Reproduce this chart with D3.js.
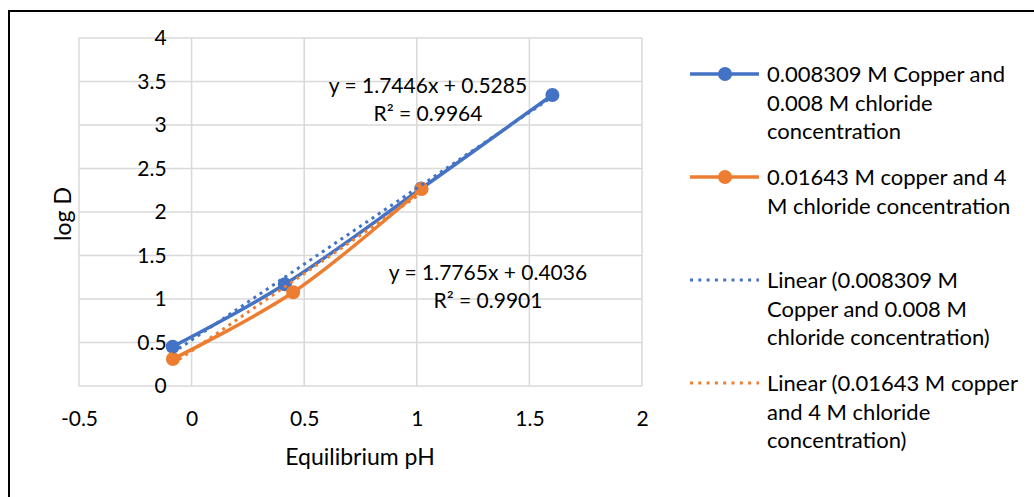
<!DOCTYPE html>
<html>
<head>
<meta charset="utf-8">
<script src="https://cdn.jsdelivr.net/npm/d3@7"></script>
<style>
  body { margin: 0; background: #fff; }
  svg text { font-family: Lato, "Open Sans", sans-serif; fill: #000; }
</style>
</head>
<body>
<svg id="chart" width="1034" height="497"></svg>
<script>
// data
const seriesNames = [
  ["0.008309 M Copper and", "0.008 M chloride", "concentration"],
  ["0.01643 M copper and 4", "M chloride concentration"]
];
const trendNames = [
  ["Linear (0.008309 M", "Copper and 0.008 M", "chloride concentration)"],
  ["Linear (0.01643 M copper", "and 4 M chloride", "concentration)"]
];
const copperPH = [-0.084, 0.414, 1.02, 1.602];
const copperLogD = [0.452, 1.169, 2.27, 3.345];
const chloridePH = [-0.083, 0.451, 1.021];
const chlorideLogD = [0.31, 1.077, 2.264];
const xTicks = [-0.5, 0, 0.5, 1, 1.5, 2];
const yTicks = [0, 0.5, 1, 1.5, 2, 2.5, 3, 3.5, 4];
const trendEq = [
  { slope: 1.7446, intercept: 0.5285, r2: 0.9964 },
  { slope: 1.7765, intercept: 0.4036, r2: 0.9901 }
];

const colors = ["#4472C4", "#ED7D31"];

const svg = d3.select("#chart");
const plot = { left: 79, right: 642, top: 38, bottom: 386 };

// chart frame
svg.append("rect")
  .attr("x", 9).attr("y", 11)
  .attr("width", 1100).attr("height", 600)
  .attr("fill", "none").attr("stroke", "#000").attr("stroke-width", 2);

const x = d3.scaleLinear().domain([-0.5, 2]).range([plot.left, plot.right]);
const y = d3.scaleLinear().domain([0, 4]).range([plot.bottom, plot.top]);

// gridlines
svg.append("g").selectAll("line").data(xTicks).enter().append("line")
  .attr("x1", d => x(d)).attr("x2", d => x(d))
  .attr("y1", plot.top).attr("y2", plot.bottom)
  .attr("stroke", "#d9d9d9").attr("stroke-width", 1.5);
svg.append("g").selectAll("line").data(yTicks).enter().append("line")
  .attr("x1", plot.left).attr("x2", plot.right)
  .attr("y1", d => y(d)).attr("y2", d => y(d))
  .attr("stroke", "#d9d9d9").attr("stroke-width", 1.5);

// axes sit at x=0 / y=0, like Excel
const yAxis = svg.append("g")
  .attr("transform", `translate(${x(0) - 22},0)`)
  .call(d3.axisLeft(y).tickValues(yTicks).tickSize(0).tickFormat(d => String(d)));
const xAxis = svg.append("g")
  .attr("transform", `translate(0,${y(0) + 26})`)
  .call(d3.axisBottom(x).tickValues(xTicks).tickSize(0).tickFormat(d => String(d)));
[yAxis, xAxis].forEach(g => {
  g.select(".domain").remove();
  g.selectAll("text").attr("font-size", "21px").attr("font-family", "Lato, sans-serif").attr("fill", "#000");
});
yAxis.selectAll("text").attr("dx", "0");
xAxis.selectAll("text").attr("dy", "0.5em");

// axis titles
svg.append("text")
  .attr("transform", "rotate(-90)")
  .attr("x", -214).attr("y", 71)
  .attr("text-anchor", "middle").attr("font-size", "23px")
  .text("log D");
svg.append("text")
  .attr("x", 360).attr("y", 465)
  .attr("text-anchor", "middle").attr("font-size", "23px")
  .text("Equilibrium pH");

const series = [
  { xs: copperPH, ys: copperLogD },
  { xs: chloridePH, ys: chlorideLogD }
];

const line = d3.line()
  .x(d => x(d[0])).y(d => y(d[1]))
  .curve(d3.curveCatmullRom.alpha(0.5));

series.forEach((s, i) => {
  const pts = s.xs.map((v, k) => [v, s.ys[k]]);
  svg.append("path")
    .datum(pts)
    .attr("d", line)
    .attr("fill", "none")
    .attr("stroke", colors[i])
    .attr("stroke-width", 3.5)
    .attr("stroke-linejoin", "round");
  svg.append("g").selectAll("circle").data(pts).enter().append("circle")
    .attr("cx", d => x(d[0])).attr("cy", d => y(d[1]))
    .attr("r", 7).attr("fill", colors[i]);
});

// linear trendlines across each series' x range
series.forEach((s, i) => {
  const t = trendEq[i];
  const ends = d3.extent(s.xs).map(v => [v, t.slope * v + t.intercept]);
  svg.append("path")
    .datum(ends)
    .attr("d", d3.line().x(d => x(d[0])).y(d => y(d[1])))
    .attr("fill", "none")
    .attr("stroke", colors[i])
    .attr("stroke-width", 3)
    .attr("stroke-dasharray", "3 4.5");
});

// trendline equations
const eqPos = [[428, 93], [488, 280]];
trendEq.forEach((t, i) => {
  const g = svg.append("text").attr("text-anchor", "middle").attr("font-size", "21px");
  g.append("tspan").attr("x", eqPos[i][0]).attr("y", eqPos[i][1])
    .text(`y = ${t.slope}x + ${t.intercept}`);
  g.append("tspan").attr("x", eqPos[i][0]).attr("y", eqPos[i][1] + 28)
    .text(`R² = ${t.r2}`);
});

// legend
const legendY = [74, 177, 280, 383];
const legendItems = [
  { lines: seriesNames[0], color: colors[0], dotted: false },
  { lines: seriesNames[1], color: colors[1], dotted: false },
  { lines: trendNames[0], color: colors[0], dotted: true },
  { lines: trendNames[1], color: colors[1], dotted: true }
];
legendItems.forEach((it, i) => {
  const ly = legendY[i];
  svg.append("line")
    .attr("x1", 690).attr("x2", 759).attr("y1", ly).attr("y2", ly)
    .attr("stroke", it.color)
    .attr("stroke-width", it.dotted ? 3 : 3.5)
    .attr("stroke-dasharray", it.dotted ? "3 5.3" : null);
  if (!it.dotted) {
    svg.append("circle").attr("cx", 725).attr("cy", ly).attr("r", 7).attr("fill", it.color);
  }
  const t = svg.append("text").attr("font-size", "22px");
  it.lines.forEach((s, k) => {
    t.append("tspan").attr("x", 767).attr("y", ly + 8 + k * 28.7).text(s);
  });
});
</script>
</body>
</html>
